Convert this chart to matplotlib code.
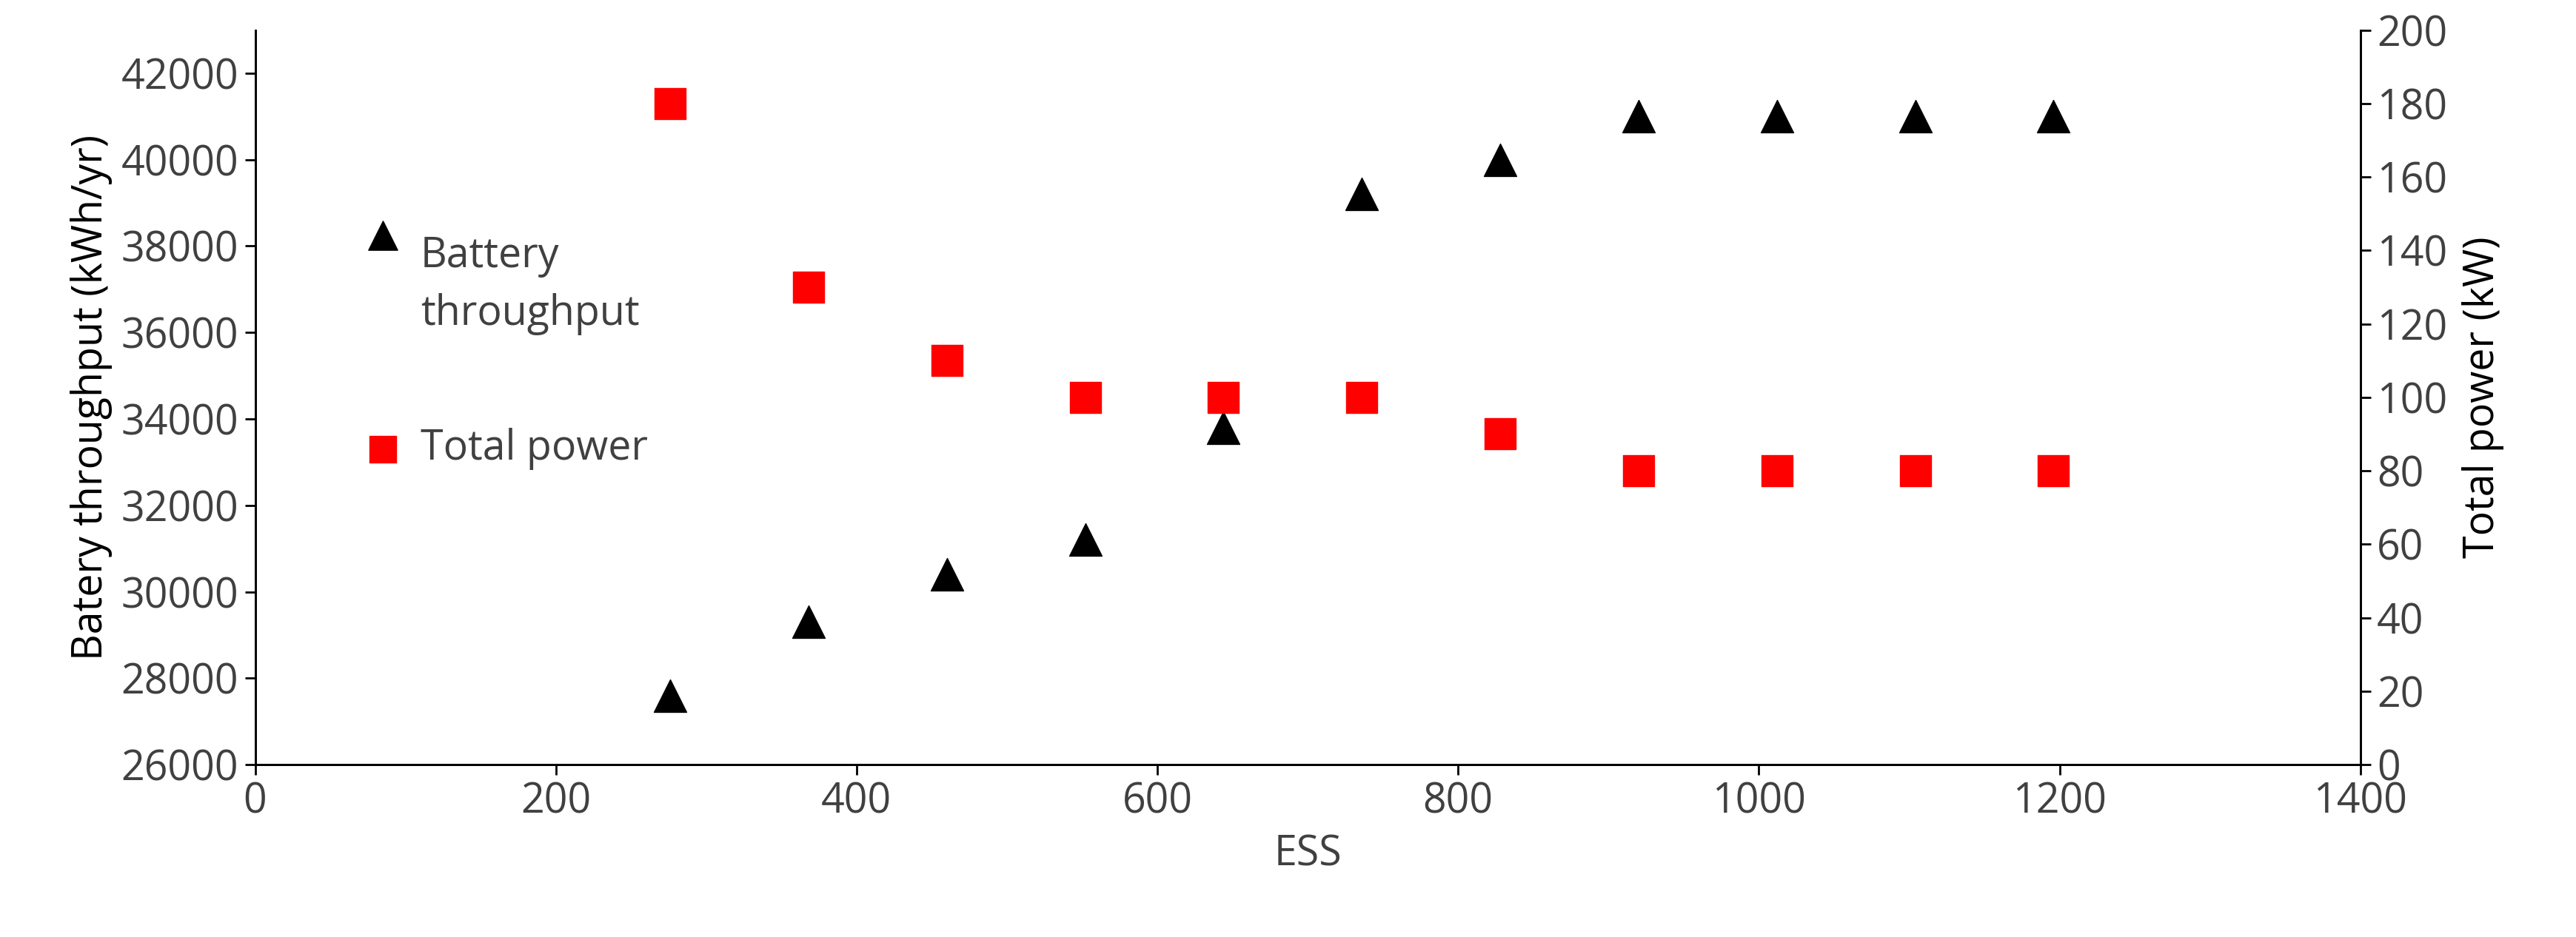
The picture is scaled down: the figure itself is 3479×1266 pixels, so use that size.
import matplotlib.pyplot as plt

ess = [276, 368, 460, 552, 644, 736, 828, 920, 1012, 1104, 1196]
throughput = [27600, 29300, 30400, 31200, 33800, 39200, 40000, 41000, 41000, 41000, 41000]
total_power = [180, 130, 110, 100, 100, 100, 90, 80, 80, 80, 80]

plt.rcParams['font.family'] = ['Open Sans', 'DejaVu Sans']
fs = 40
txt = '#404040'

fig = plt.figure(figsize=(34.8, 12.66), dpi=100)
ax = fig.add_axes([0.099, 0.184, 0.817, 0.784])
ax2 = ax.twinx()

ax.scatter(ess, throughput, marker='^', s=1000, color='black', zorder=3)
ax2.scatter(ess, total_power, marker='s', s=900, color='#ff0000', zorder=3)

ax.set_xlim(0, 1400)
ax.set_ylim(26000, 43000)
ax.set_yticks(range(26000, 42001, 2000))
ax2.set_ylim(0, 200)
ax2.set_yticks(range(0, 201, 20))

for a in (ax, ax2):
    a.spines['top'].set_visible(False)
    for s in a.spines.values():
        s.set_linewidth(2)
    a.tick_params(labelsize=fs, labelcolor=txt, color='black', width=2, length=10,
                  direction='out', pad=6)

ax.set_xlabel('ESS', fontsize=fs, color=txt, labelpad=10)
ax.set_ylabel('Batery throughput (kWh/yr)', fontsize=fs, color='black', labelpad=8)
ax2.set_ylabel('Total power (kW)', fontsize=fs, color='black', labelpad=14)

# legend drawn by hand in the plot area
ax.scatter([85], [38250], marker='^', s=800, color='black')
ax.text(110, 38250, 'Battery\nthroughput', fontsize=fs, color=txt, va='top', ha='left',
        linespacing=1.5, transform=ax.transData)
ax.scatter([85], [33300], marker='s', s=700, color='#ff0000')
ax.text(110, 33300, 'Total power', fontsize=fs, color=txt, va='center', ha='left')

fig.savefig('out.png', dpi=100)
